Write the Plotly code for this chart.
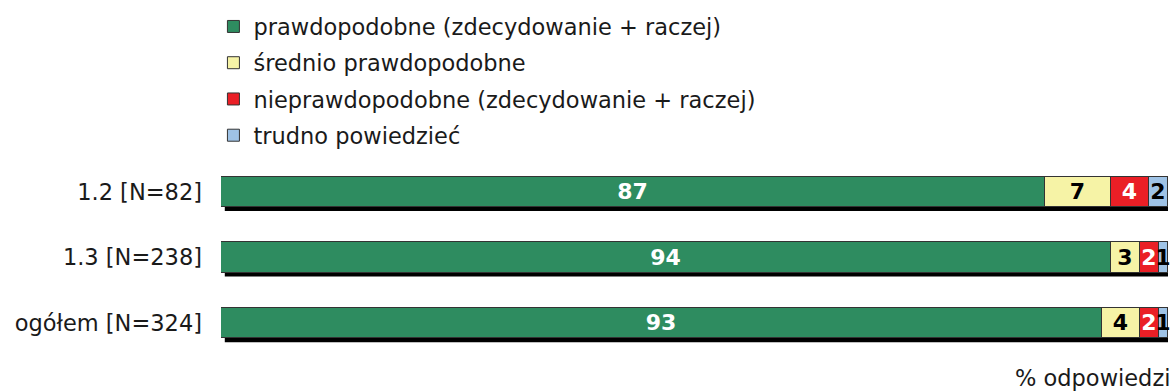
import plotly.graph_objects as go

categories = ["1.2 [N=82]", "1.3 [N=238]", "ogółem [N=324]"]
series_names = [
    "prawdopodobne (zdecydowanie + raczej)",
    "średnio prawdopodobne",
    "nieprawdopodobne (zdecydowanie + raczej)",
    "trudno powiedzieć",
]
likely = [87, 94, 93]
medium = [7, 3, 4]
unlikely = [4, 2, 2]
dont_know = [2, 1, 1]

values = [likely, medium, unlikely, dont_know]
colors = ["#2e8c60", "#f6f3a6", "#ea1f26", "#9fc3e6"]
text_colors = ["white", "black", "white", "black"]

FONT = "DejaVu Sans"
FS = 22.5
BAR_W = 0.46

fig = go.Figure()
for name, vals, col, tcol in zip(series_names, values, colors, text_colors):
    fig.add_trace(go.Bar(
        y=categories, x=vals, name=name, orientation="h",
        marker=dict(color=col, line=dict(color="#333333", width=1)),
        width=BAR_W,
        text=[str(v) for v in vals],
        textposition="inside", insidetextanchor="middle",
        constraintext="none", textangle=0,
        textfont=dict(family=FONT, size=22, color=tcol, weight="bold"),
        legendgroup=name,
        cliponaxis=False,
    ))

# drop shadow behind each stacked bar
dx, dy = 0.4, 0.06
for i in range(len(categories)):
    total = sum(v[i] for v in values)
    fig.add_shape(type="rect", xref="x", yref="y", layer="below",
                  x0=dx, x1=total + dx,
                  y0=i - BAR_W / 2 + dy, y1=i + BAR_W / 2 + dy,
                  fillcolor="black", line=dict(width=0))

fig.add_annotation(text="% odpowiedzi", xref="paper", yref="paper",
                   x=1.004, y=-0.11, xanchor="right", yanchor="middle",
                   showarrow=False, font=dict(family=FONT, size=FS, color="#1a1a1a"))

fig.update_layout(
    width=1176, height=392,
    margin=dict(l=221, r=8, t=159, b=36, autoexpand=False),
    barmode="stack", bargap=0,
    plot_bgcolor="white", paper_bgcolor="white",
    font=dict(family=FONT, size=FS, color="#1a1a1a"),
    showlegend=True,
    legend=dict(x=-0.008, y=1.78, xanchor="left", yanchor="top",
                traceorder="grouped", tracegroupgap=4,
                font=dict(family=FONT, size=FS, color="#1a1a1a"),
                itemwidth=30, bgcolor="rgba(0,0,0,0)"),
    xaxis=dict(range=[0, 100], visible=False, fixedrange=True),
    yaxis=dict(autorange="reversed", showgrid=False, zeroline=False,
               showline=False, ticks="", ticklabelstandoff=18,
               tickfont=dict(family=FONT, size=FS, color="#1a1a1a")),
)

fig.write_html("out.html")
